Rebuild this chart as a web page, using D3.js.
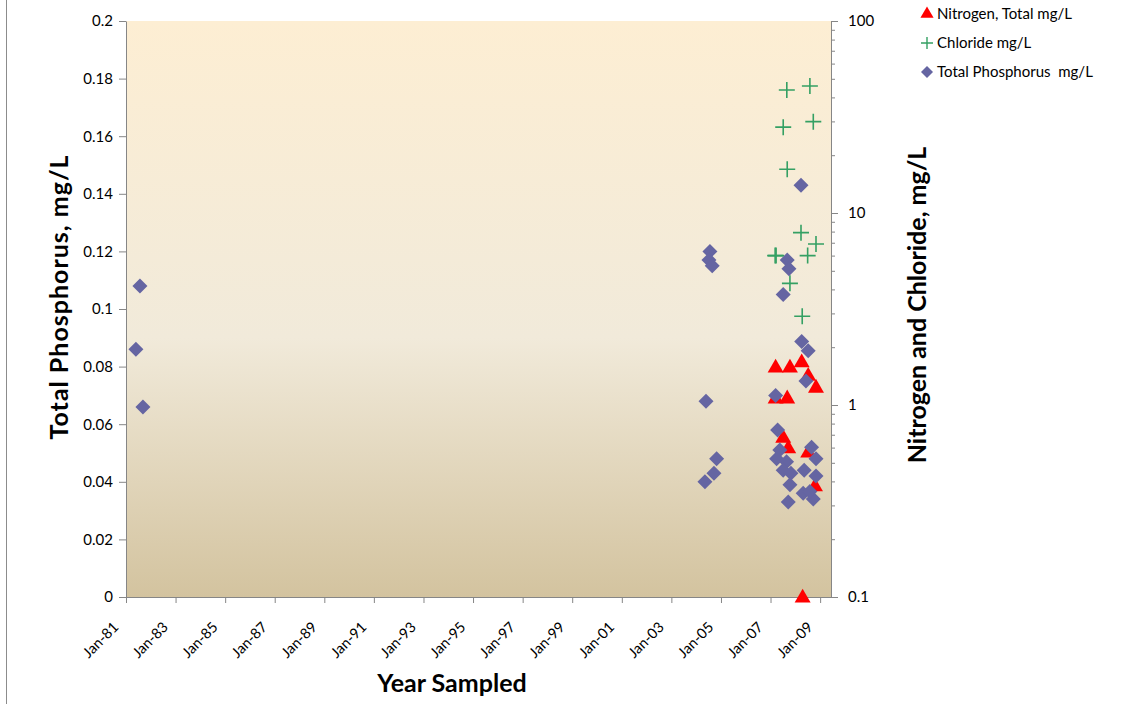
<!DOCTYPE html>
<html>
<head>
<meta charset="utf-8">
<script src="https://cdn.jsdelivr.net/npm/d3@7"></script>
<style>
  body { margin: 0; background: #fff; }
  text { font-family: Lato, "Open Sans", sans-serif; fill: #000; }
  .axis path, .axis line { stroke: #868686; }
</style>
</head>
<body>
<script>
// data
var nitrogenDates = ['2007-03-17', '2007-10-14', '2008-04-04', '2008-07-09', '2008-11-01', '2007-03-17',
                     '2007-09-04', '2007-07-07', '2007-09-19', '2008-07-09', '2008-10-17', '2008-04-18'];
var nitrogenValues = [1.58, 1.58, 1.68, 1.43, 1.24, 1.09, 1.09, 0.68, 0.60, 0.57, 0.38, 0.1];

var chlorideDates = ['2007-08-29', '2008-08-03', '2007-07-07', '2008-09-22', '2007-09-04', '2008-03-25',
                     '2008-11-01', '2007-03-10', '2007-03-24', '2008-07-01', '2007-10-14', '2008-04-12'];
var chlorideValues = [43.7, 45.9, 28, 29.9, 16.9, 7.9, 6.9, 6.0, 6.0, 6.0, 4.3, 2.9];

var phosphorusDates = ['1981-05-27', '1981-07-25', '1981-09-08',
                       '2004-07-22', '2004-07-08', '2004-08-25', '2004-05-25', '2004-10-29', '2004-09-19', '2004-05-10',
                       '2008-03-25', '2007-09-04', '2007-09-29', '2007-07-07', '2008-04-04', '2008-07-09', '2008-06-06',
                       '2007-03-17', '2007-04-16', '2007-05-18', '2008-08-28', '2007-04-01', '2008-11-01', '2007-08-25',
                       '2007-07-07', '2007-10-29', '2008-05-11', '2008-11-01', '2007-10-14', '2008-04-26', '2008-09-22',
                       '2008-08-03', '2007-09-19'];
var phosphorusValues = [0.086, 0.108, 0.066,
                        0.120, 0.117, 0.115, 0.068, 0.048, 0.043, 0.040,
                        0.143, 0.117, 0.114, 0.105, 0.0887, 0.0855, 0.075,
                        0.070, 0.058, 0.051, 0.052, 0.048, 0.048, 0.047,
                        0.044, 0.043, 0.044, 0.042, 0.039, 0.036, 0.034,
                        0.0366, 0.033];

var leftTicks = [0, 0.02, 0.04, 0.06, 0.08, 0.1, 0.12, 0.14, 0.16, 0.18, 0.2];
var rightTicks = [0.1, 1, 10, 100];
var legendLabels = ['Nitrogen, Total mg/L', 'Chloride mg/L', 'Total Phosphorus  mg/L'];

// graph dimensions
var width = 1133, height = 704,
    plot = {left: 126, right: 831, top: 21, bottom: 597};

var parseDate = d3.timeParse('%Y-%m-%d');

// scales
var x = d3.scaleTime()
          .domain([new Date(1981, 0, 1), new Date(2009, 5, 10)])
          .range([plot.left, plot.right]);
var yLeft = d3.scaleLinear().domain([0, 0.2]).range([plot.bottom, plot.top]);
var yRight = d3.scaleLog().domain([0.1, 100]).range([plot.bottom, plot.top]);

var svg = d3.select('body').append('svg')
            .attr('width', width)
            .attr('height', height);

// chart frame edge on the left
svg.append('line')
   .attr('x1', 6.5).attr('x2', 6.5)
   .attr('y1', 0).attr('y2', height)
   .attr('stroke', '#8c8c8c')
   .attr('stroke-width', 1);

// plot background gradient
var grad = svg.append('defs').append('linearGradient')
              .attr('id', 'bg')
              .attr('x1', 0).attr('y1', 0).attr('x2', 0).attr('y2', 1);
grad.append('stop').attr('offset', '0%').attr('stop-color', '#fdeed3');
grad.append('stop').attr('offset', '55%').attr('stop-color', '#f1eada');
grad.append('stop').attr('offset', '100%').attr('stop-color', '#d3c39f');

svg.append('rect')
   .attr('x', plot.left)
   .attr('y', plot.top)
   .attr('width', plot.right - plot.left)
   .attr('height', plot.bottom - plot.top)
   .attr('fill', 'url(#bg)');

// x-axis
var xTicks = d3.range(1981, 2010, 2).map(function(yr) { return new Date(yr, 0, 1); });
var xAxis = svg.append('g')
   .attr('class', 'axis')
   .attr('transform', 'translate(0,' + plot.bottom + ')')
   .call(d3.axisBottom(x).tickValues(xTicks).tickFormat(d3.timeFormat('%b-%y')).tickSize(6).tickSizeOuter(0));
xAxis.selectAll('text')
     .style('font-size', '14.5px')
     .attr('text-anchor', 'end')
     .attr('y', 0)
     .attr('dy', 0)
     .attr('transform', 'translate(-7,31) rotate(-45)');

// left y-axis
var leftAxis = svg.append('g')
   .attr('class', 'axis')
   .attr('transform', 'translate(' + plot.left + ',0)')
   .call(d3.axisLeft(yLeft).tickValues(leftTicks).tickFormat(d3.format('')).tickSize(7).tickSizeOuter(0).tickPadding(6));
leftAxis.selectAll('text').style('font-size', '15px');

// right y-axis (log) with minor ticks
var minorTicks = [];
[0.1, 1, 10].forEach(function(d) {
    for (var k = 2; k <= 9; k++) minorTicks.push(d * k);
});
svg.append('g')
   .attr('class', 'axis')
   .attr('transform', 'translate(' + plot.right + ',0)')
   .call(d3.axisRight(yRight).tickValues(minorTicks).tickFormat('').tickSize(4).tickSizeOuter(0));
var rightAxis = svg.append('g')
   .attr('class', 'axis')
   .attr('transform', 'translate(' + plot.right + ',0)')
   .call(d3.axisRight(yRight).tickValues(rightTicks).tickFormat(d3.format('')).tickSize(7).tickSizeOuter(0).tickPadding(10));
rightAxis.selectAll('text').style('font-size', '15px');

// markers
var triangle = d3.symbol().type(d3.symbolTriangle).size(110);
var diamond = 'M0,-7.5L7.5,0L0,7.5L-7.5,0Z';
var plus = 'M-8,0H8M0,-8V8';

svg.append('g').selectAll('path')
   .data(nitrogenValues)
   .enter().append('path')
   .attr('d', triangle)
   .attr('fill', '#ff0000')
   .attr('transform', function(d, i) {
       return 'translate(' + x(parseDate(nitrogenDates[i])) + ',' + (yRight(d) + 1) + ')';
   });

svg.append('g').selectAll('path')
   .data(chlorideValues)
   .enter().append('path')
   .attr('d', plus)
   .attr('fill', 'none')
   .attr('stroke', '#34a063')
   .attr('stroke-width', 1.6)
   .attr('transform', function(d, i) {
       return 'translate(' + x(parseDate(chlorideDates[i])) + ',' + yRight(d) + ')';
   });

svg.append('g').selectAll('path')
   .data(phosphorusValues)
   .enter().append('path')
   .attr('d', diamond)
   .attr('fill', '#6565a2')
   .attr('transform', function(d, i) {
       return 'translate(' + x(parseDate(phosphorusDates[i])) + ',' + yLeft(d) + ')';
   });

// axis titles
svg.append('text')
   .attr('text-anchor', 'middle')
   .attr('transform', 'translate(68,297)rotate(-90)')
   .style('font-size', '25px')
   .style('font-weight', 'bold')
   .style('letter-spacing', '1px')
   .text('Total Phosphorus, mg/L');

svg.append('text')
   .attr('text-anchor', 'middle')
   .attr('transform', 'translate(926,' + ((plot.top + plot.bottom) / 2 - 4) + ')rotate(-90)')
   .style('font-size', '25px')
   .style('font-weight', 'bold')
   .text('Nitrogen and Chloride, mg/L');

svg.append('text')
   .attr('text-anchor', 'middle')
   .attr('x', 452)
   .attr('y', 692)
   .style('font-size', '25px')
   .style('font-weight', 'bold')
   .text('Year Sampled');

// legend
var legend = svg.append('g').selectAll('g')
   .data(legendLabels)
   .enter().append('g')
   .attr('transform', function(d, i) { return 'translate(927,' + (14 + i * 29) + ')'; });

legend.append('path')
   .attr('d', function(d, i) {
       if (i === 0) return d3.symbol().type(d3.symbolTriangle).size(75)();
       if (i === 1) return 'M-6,0H6M0,-6V6';
       return 'M0,-6L6,0L0,6L-6,0Z';
   })
   .attr('fill', function(d, i) { return i === 0 ? '#ff0000' : i === 1 ? 'none' : '#6565a2'; })
   .attr('stroke', function(d, i) { return i === 1 ? '#34a063' : 'none'; })
   .attr('stroke-width', 1.4);

legend.append('text')
   .attr('x', 10)
   .attr('dy', '0.35em')
   .style('font-size', '15px')
   .style('white-space', 'pre')
   .text(function(d) { return d; });
</script>
</body>
</html>
